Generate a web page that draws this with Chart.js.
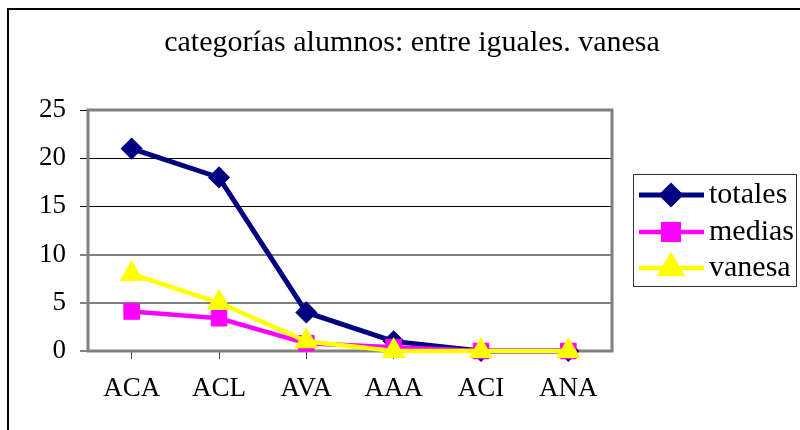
<!DOCTYPE html>
<html>
<head>
<meta charset="utf-8">
<title>categorías alumnos: entre iguales. vanesa</title>
<script src="https://cdn.jsdelivr.net/npm/chart.js@4"></script>
<style>
  html, body { margin: 0; padding: 0; background: #fff; }
  #wrap { width: 800px; height: 430px; }
</style>
</head>
<body>
<div id="wrap"><canvas id="chart" width="800" height="430"></canvas></div>
<script>
// data
const categories = ['ACA', 'ACL', 'AVA', 'AAA', 'ACI', 'ANA'];
const totales = [21, 18, 4, 1, 0, 0];
const medias = [4.1, 3.4, 0.8, 0.4, 0, 0];
const vanesa = [8, 5, 1, 0, 0, 0];
const yTicks = [0, 5, 10, 15, 20, 25];
const chartTitle = 'categorías alumnos: entre iguales. vanesa';

const FONT = "'Liberation Serif', 'Times New Roman', serif";
const NAVY = '#000080';
const PINK = '#ff00ff';
const YELLOW = '#ffff00';

// white page, black frame at top/left and the centred title
const pagePlugin = {
    id: 'page',
    beforeDraw(chart) {
        const ctx = chart.ctx;
        ctx.save();
        ctx.fillStyle = '#fff';
        ctx.fillRect(0, 0, chart.width, chart.height);
        ctx.strokeStyle = '#000';
        ctx.lineWidth = 2;
        ctx.beginPath();
        ctx.moveTo(8, chart.height);
        ctx.lineTo(8, 9);
        ctx.lineTo(chart.width, 9);
        ctx.stroke();
        ctx.fillStyle = '#000';
        ctx.font = '30px ' + FONT;
        ctx.textAlign = 'center';
        ctx.textBaseline = 'alphabetic';
        ctx.fillText(chartTitle, 412, 51);
        ctx.restore();
    }
};

// grey frame round the plot area
const framePlugin = {
    id: 'frame',
    beforeDatasetsDraw(chart) {
        const a = chart.chartArea;
        const ctx = chart.ctx;
        ctx.save();
        ctx.strokeStyle = '#808080';
        ctx.lineWidth = 3;
        ctx.strokeRect(a.left, a.top, a.right - a.left, a.bottom - a.top);
        ctx.restore();
    }
};

// legend box with line + marker like the original
const legendPlugin = {
    id: 'boxLegend',
    afterDraw(chart) {
        const ctx = chart.ctx;
        const x0 = 633, y0 = 174, w = 163, h = 112;
        ctx.save();
        ctx.fillStyle = '#fff';
        ctx.fillRect(x0, y0, w, h);
        ctx.strokeStyle = '#333';
        ctx.lineWidth = 1;
        ctx.strokeRect(x0 + 0.5, y0 + 0.5, w, h);
        const rows = [195, 232, 268];
        chart.data.datasets.forEach((ds, i) => {
            const y = rows[i];
            ctx.strokeStyle = ds.borderColor;
            ctx.lineWidth = ds.borderWidth;
            ctx.beginPath();
            ctx.moveTo(639, y);
            ctx.lineTo(704, y);
            ctx.stroke();
            ctx.fillStyle = ds.pointBackgroundColor;
            ctx.strokeStyle = ds.pointBorderColor;
            Chart.helpers.drawPoint(ctx, {
                pointStyle: ds.pointStyle,
                radius: ds.pointRadius,
                rotation: 0,
                borderWidth: ds.pointBorderWidth
            }, 671, y);
            ctx.fillStyle = '#000';
            ctx.font = '30px ' + FONT;
            ctx.textBaseline = 'middle';
            ctx.textAlign = 'left';
            ctx.fillText(ds.label, 709, y);
        });
        ctx.restore();
    }
};

const chart = new Chart(document.getElementById('chart'), {
    type: 'line',
    data: {
        labels: categories,
        datasets: [
            {
                label: 'totales',
                data: totales,
                borderColor: NAVY,
                backgroundColor: NAVY,
                borderWidth: 5,
                pointStyle: 'rectRot',
                pointRadius: 9,
                pointBorderWidth: 3,
                pointBackgroundColor: NAVY,
                pointBorderColor: NAVY,
                order: 3,
                clip: false
            },
            {
                label: 'medias',
                data: medias,
                borderColor: PINK,
                backgroundColor: PINK,
                borderWidth: 4.5,
                pointStyle: 'rect',
                pointRadius: 11,
                pointBorderWidth: 1,
                pointBackgroundColor: PINK,
                pointBorderColor: PINK,
                order: 2,
                clip: false
            },
            {
                label: 'vanesa',
                data: vanesa,
                borderColor: YELLOW,
                backgroundColor: YELLOW,
                borderWidth: 4.5,
                pointStyle: 'triangle',
                pointRadius: 12,
                pointBorderWidth: 2,
                pointBackgroundColor: YELLOW,
                pointBorderColor: YELLOW,
                order: 1,
                clip: false
            }
        ]
    },
    options: {
        responsive: false,
        animation: false,
        layout: { padding: { left: 0, right: 188, top: 110, bottom: 0 } },
        plugins: {
            legend: { display: false },
            tooltip: { enabled: false },
            title: { display: false }
        },
        scales: {
            x: {
                offset: true,
                border: { display: false },
                grid: {
                    drawOnChartArea: false,
                    drawTicks: true,
                    tickLength: 8,
                    tickColor: '#404040',
                    color: '#404040'
                },
                ticks: {
                    color: '#000',
                    padding: 14,
                    font: { family: FONT, size: 27 }
                },
                afterFit(scale) { scale.height = 79; }
            },
            y: {
                min: 0,
                max: 25,
                border: { display: false },
                afterBuildTicks(scale) {
                    scale.ticks = yTicks.map(v => ({ value: v }));
                },
                grid: {
                    tickLength: 8,
                    color: (c) => (c.tick && c.tick.value >= 15) ? '#000' : '#808080',
                    lineWidth: (c) => (c.tick && c.tick.value >= 15) ? 1 : 2
                },
                ticks: {
                    color: '#000',
                    padding: 14,
                    font: { family: FONT, size: 27 }
                },
                afterFit(scale) { scale.width = 88; }
            }
        }
    },
    plugins: [pagePlugin, framePlugin, legendPlugin]
});
</script>
</body>
</html>
